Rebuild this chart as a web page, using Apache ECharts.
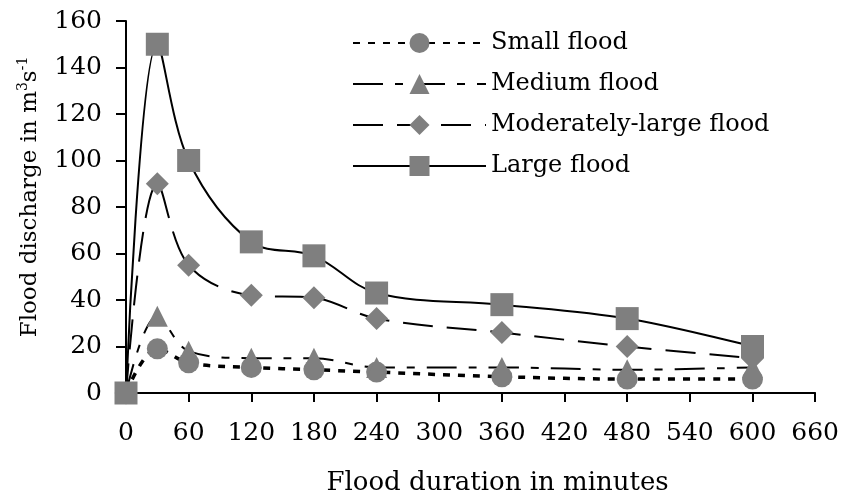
<!DOCTYPE html>
<html><head><meta charset="utf-8">
<script src="https://cdn.jsdelivr.net/npm/echarts@6/dist/echarts.min.js"></script>
<style>html,body{margin:0;padding:0;background:#fff}#c{width:842px;height:501px}</style>
</head><body><div id="c"></div>
<script>
const minutes = [0, 30, 60, 120, 180, 240, 360, 480, 600];
const smallFlood = [0, 19, 13, 11, 10, 9, 7, 6, 6];
const mediumFlood = [0, 33, 18, 15, 15, 11, 11, 10, 11];
const modLargeFlood = [0, 90, 55, 42, 41, 32, 26, 20, 15];
const largeFlood = [0, 150, 100, 65, 59, 43, 38, 32, 20];
const seriesNames = ['Small flood', 'Medium flood', 'Moderately-large flood', 'Large flood'];
const xTicks = { min: 0, max: 660, interval: 60 };
const yTicks = { min: 0, max: 160, interval: 20 };

const font = 'DejaVu Serif, Liberation Serif, serif';
const pts = arr => minutes.map((m, i) => [m, arr[i]]);
const mk = (name, data, symbol, size, lineType, width) => ({
  name, type: 'line', data: pts(data), smooth: 0.35,
  symbol, symbolSize: size,
  itemStyle: { color: '#7f7f7f' },
  lineStyle: { color: '#000', width: width, type: lineType },
  z: 2
});
const chart = echarts.init(document.getElementById('c'));
chart.setOption({
  animation: false,
  backgroundColor: '#fff',
  grid: { left: 126, right: 25, top: 21, bottom: 108 },
  legend: {
    orient: 'vertical', left: 347, top: 26,
    itemWidth: 133, itemHeight: 25, itemGap: 17,
    textStyle: { fontFamily: font, fontSize: 24, lineHeight: 24, color: '#000' },
    data: seriesNames
  },
  xAxis: {
    type: 'value', min: xTicks.min, max: xTicks.max, interval: xTicks.interval,
    name: 'Flood duration in minutes', nameLocation: 'middle', nameGap: 77,
    nameTextStyle: { fontFamily: font, fontSize: 26, color: '#000', padding: [0, 0, 0, 54] },
    axisLine: { lineStyle: { color: '#000', width: 2 } },
    axisTick: { show: true, length: 9, lineStyle: { color: '#000', width: 2 } },
    axisLabel: { fontFamily: font, fontSize: 25, color: '#000', margin: 28 },
    splitLine: { show: false }
  },
  yAxis: {
    type: 'value', min: yTicks.min, max: yTicks.max, interval: yTicks.interval,
    name: 'Flood discharge in m{sup|3}s{sup|-1}', nameLocation: 'middle', nameGap: 82,
    nameTextStyle: { fontFamily: font, fontSize: 23, color: '#000', padding: [0, 0, 0, 20],
      rich: { sup: { fontFamily: font, fontSize: 14, color: '#000', padding: [0, 0, 14, 0] } } },
    axisLine: { show: true, lineStyle: { color: '#000', width: 2 } },
    axisTick: { show: true, length: 10, lineStyle: { color: '#000', width: 2 } },
    axisLabel: { fontFamily: font, fontSize: 25, color: '#000', margin: 24 },
    splitLine: { show: false }
  },
  series: [
    mk(seriesNames[0], smallFlood, 'circle', 21, [7, 8], 3.5),
    mk(seriesNames[1], mediumFlood, 'triangle', 21, [30, 12, 8, 12], 2),
    mk(seriesNames[2], modLargeFlood, 'diamond', 23, [30, 14], 2),
    mk(seriesNames[3], largeFlood, 'rect', 23, 'solid', 2)
  ]
});
</script></body></html>
